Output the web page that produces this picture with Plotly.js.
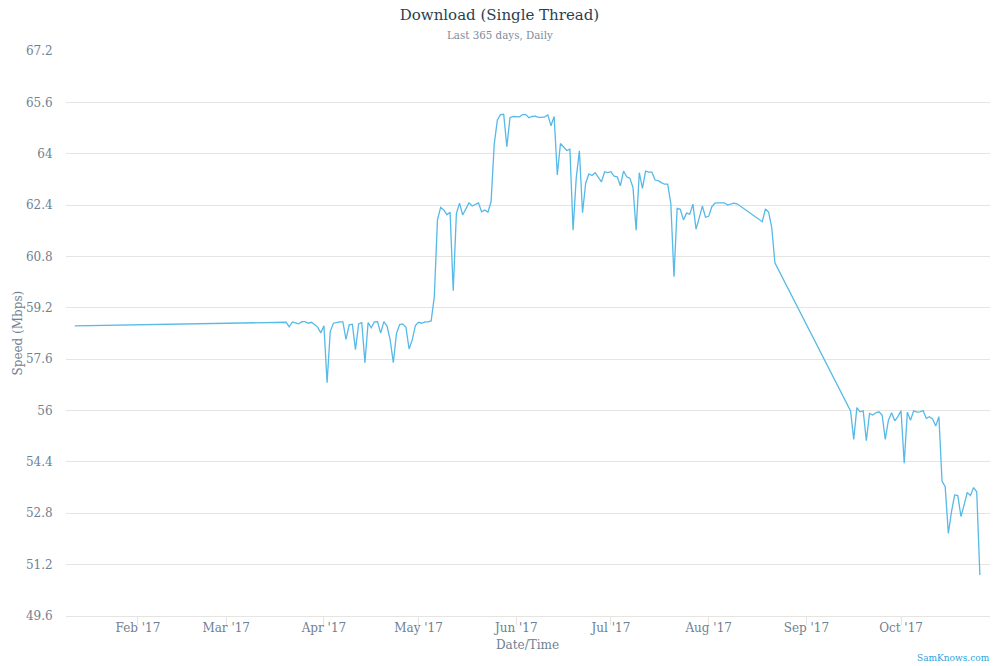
<!DOCTYPE html>
<html>
<head>
<meta charset="utf-8">
<script src="https://cdn.plot.ly/plotly-3.0.1.min.js"></script>
<style>html,body{margin:0;padding:0;background:#fff;}#chart{width:999px;height:666px;}</style>
</head>
<body>
<div id="chart"></div>
<script>
// Daily download speed (Mbps), segments of consecutive days
const seg0Start = '2017-01-12';
const seg0Values = [58.64];

const seg1Start = '2017-03-19';
const seg1Values = [
  58.75, 58.75, 58.61, 58.76, 58.73, 58.70, 58.77, 58.77, 58.72, 58.75,
  58.68, 58.60, 58.42, 58.64, 56.87, 58.46, 58.72, 58.75, 58.76, 58.76,
  58.22, 58.67, 58.69, 57.90, 58.70, 58.74, 57.49, 58.74, 58.58, 58.76,
  58.77, 58.41, 58.77, 58.63, 58.20, 57.49, 58.40, 58.68, 58.70, 58.59,
  57.92, 58.20, 58.65, 58.75, 58.72, 58.76, 58.76, 58.79, 59.55, 61.94,
  62.33, 62.25, 62.10, 62.18, 59.73, 62.14, 62.46, 62.09, 62.30, 62.47,
  62.37, 62.42, 62.47, 62.19, 62.25, 62.18, 62.51, 64.30, 65.05, 65.22,
  65.23, 64.22, 65.12, 65.16, 65.16, 65.15, 65.22, 65.22, 65.12, 65.16,
  65.17, 65.13, 65.13, 65.15, 65.21, 64.87, 65.16, 63.34, 64.32, 64.20,
  64.10, 64.14, 61.62, 63.24, 64.09, 62.16, 63.08, 63.37, 63.32, 63.41,
  63.25, 63.12, 63.44, 63.41, 63.44, 63.30, 63.28, 63.00, 63.46, 63.28,
  63.24, 62.95, 61.62, 63.41, 62.92, 63.46, 63.43, 63.43, 63.18, 63.16,
  63.10, 63.05, 63.05, 62.45, 60.17, 62.30, 62.27, 61.94, 62.15, 62.12,
  62.43, 61.65, 62.00, 62.37, 62.02, 62.05, 62.35, 62.46, 62.47, 62.47,
  62.47, 62.40, 62.44, 62.46, 62.44
];

const seg2Start = '2017-08-18';
const seg2Values = [61.88, 62.28, 62.18, 61.70, 60.60];

const seg3Start = '2017-09-15';
const seg3Values = [
  55.99, 55.10, 56.09, 55.96, 55.99, 55.06, 55.91, 55.86, 55.93, 55.96,
  55.86, 55.10, 55.70, 55.93, 55.68, 55.81, 55.99, 54.36, 55.95, 55.70,
  55.99, 55.95, 55.96, 56.00, 55.76, 55.81, 55.74, 55.52, 55.81, 53.80,
  53.63, 52.17, 52.85, 53.37, 53.35, 52.70, 53.06, 53.45, 53.35, 53.60,
  53.47, 50.88
];

const yTicks = [49.6, 51.2, 52.8, 54.4, 56, 57.6, 59.2, 60.8, 62.4, 64, 65.6, 67.2];
const xTicks = ['2017-02-01','2017-03-01','2017-04-01','2017-05-01','2017-06-01','2017-07-01','2017-08-01','2017-09-01','2017-10-01'];
const xTickLabels = ["Feb '17","Mar '17","Apr '17","May '17","Jun '17","Jul '17","Aug '17","Sep '17","Oct '17"];

function dailyDates(start, n) {
  const out = [];
  const base = new Date(start + 'T00:00:00Z');
  for (let i = 0; i < n; i++) {
    const d = new Date(base.getTime() + i * 86400000);
    out.push(d.toISOString().slice(0, 10));
  }
  return out;
}

const segs = [[seg0Start, seg0Values], [seg1Start, seg1Values], [seg2Start, seg2Values], [seg3Start, seg3Values]];
let xs = [], ys = [];
segs.forEach(([s, v]) => { xs = xs.concat(dailyDates(s, v.length)); ys = ys.concat(v); });

const FONT = 'DejaVu Serif, serif';
const GRID = '#e6e4e0';
const TXT = '#6e8192';

const trace = {
  x: xs, y: ys, type: 'scatter', mode: 'lines',
  line: { color: '#56b9e8', width: 1.3 },
  hoverinfo: 'x+y'
};

const layout = {
  width: 999, height: 666,
  margin: { l: 66, r: 9, t: 51, b: 50 },
  paper_bgcolor: '#ffffff', plot_bgcolor: '#ffffff',
  showlegend: false,
  font: { family: FONT, color: TXT, size: 12 },
  title: {
    text: 'Download (Single Thread)',
    font: { family: FONT, size: 15, color: '#2a3f52' },
    x: 0.5, xanchor: 'center', xref: 'container',
    y: 1 - 15 / 666, yanchor: 'middle', yref: 'container'
  },
  xaxis: {
    type: 'date',
    range: ['2017-01-09 05:00', '2017-10-29 05:00'],
    tickmode: 'array', tickvals: xTicks, ticktext: xTickLabels,
    ticks: 'outside', ticklen: 8, tickwidth: 1, tickcolor: GRID,
    ticklabelstandoff: -7,
    showgrid: false, zeroline: false,
    showline: true, linecolor: GRID, linewidth: 1,
    tickfont: { family: FONT, size: 12, color: TXT },
    fixedrange: true
  },
  yaxis: {
    range: [49.6, 67.2],
    tickmode: 'array', tickvals: yTicks, ticktext: yTicks.map(String),
    showgrid: true, gridcolor: GRID, gridwidth: 1,
    zeroline: false, showline: false,
    ticks: 'outside', ticklen: 10, tickcolor: 'rgba(0,0,0,0)',
    tickfont: { family: FONT, size: 12, color: TXT },
    fixedrange: true
  },
  annotations: [
    {
      text: 'Last 365 days, Daily', xref: 'paper', yref: 'paper',
      x: (499.5 - 66) / 924, y: (616 - 35) / 565, xanchor: 'center', yanchor: 'middle',
      showarrow: false, font: { family: FONT, size: 10.3, color: '#7b8c9c' }
    },
    {
      text: 'Date/Time', xref: 'paper', yref: 'paper',
      x: (527.5 - 66) / 924, y: (616 - 645) / 565, xanchor: 'center', yanchor: 'middle',
      showarrow: false, font: { family: FONT, size: 12, color: TXT }
    },
    {
      text: 'Speed (Mbps)', xref: 'paper', yref: 'paper', textangle: -90,
      x: (17 - 66) / 924, y: 0.5, xanchor: 'center', yanchor: 'middle',
      showarrow: false, font: { family: FONT, size: 12, color: TXT }
    },
    {
      text: 'SamKnows.com', xref: 'paper', yref: 'paper',
      x: 1 + 2 / 924, y: (616 - 658) / 565, xanchor: 'right', yanchor: 'middle',
      showarrow: false, font: { family: FONT, size: 9, color: '#2ba4df' }
    }
  ]
};

Plotly.newPlot('chart', [trace], layout, { displayModeBar: false, staticPlot: true });
</script>
</body>
</html>
